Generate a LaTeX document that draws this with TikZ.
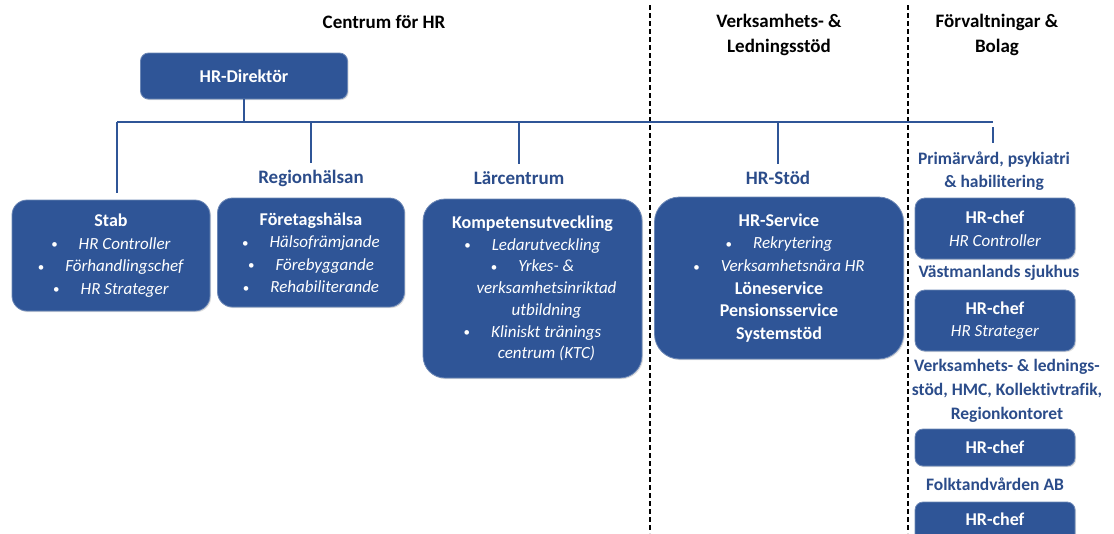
\documentclass[tikz,border=0pt]{standalone}
\usepackage{fontspec}
\setmainfont{Carlito}[Ligatures=NoCommon]
\usepackage{tikz}
\usetikzlibrary{shadows}
\definecolor{hrblue}{HTML}{2F5597}
\definecolor{hrtext}{HTML}{2B4C8A}
\newcommand{\punkt}[1]{{\fontsize{13}{0}\selectfont\raisebox{.5pt}{\textbullet}}\hspace{21pt}\textit{#1}}
\newcommand{\rubrik}[1]{{\bfseries\fontsize{18}{0}\selectfont #1}}

\begin{document}
\begin{tikzpicture}[x=1pt,y=-1pt,
  box/.style={fill=hrblue, draw=hrblue!70!white, line width=.8pt, text=white, align=center, inner sep=0pt,
    font=\fontsize{17}{22.5}\selectfont, drop shadow={opacity=.25, shadow xshift=1.2pt, shadow yshift=-1.2pt}},
  head/.style={align=center, font=\bfseries\fontsize{19}{25}\selectfont},
  unit/.style={align=center, text=hrtext, inner sep=1pt, font=\bfseries\fontsize{19}{23}\selectfont},
  side/.style={unit, font=\bfseries\fontsize{17.5}{23}\selectfont},
  bus/.style={draw=hrblue, line width=2.6pt},
  sep/.style={draw=black, line width=1.2pt, dash pattern=on 5pt off 3pt}]
             \useasboundingbox (0,0) rectangle (1114,533);

             \node[head] (centrum) at (384,22) {Centrum för HR};
             \node[head] (vlstod) at (779,35) {Verksamhets- \&\\Ledningsstöd};
             \node[head] (forvalt) at (997,35) {Förvaltningar \&\\Bolag};

             \draw[sep] (650,5) -- (650,533);
             \draw[sep] (908,5) -- (908,533);

             \node[box, minimum width=207, minimum height=46, rounded corners=8] (direktor) at (244,76) {\rubrik{HR-Direktör}};

             \coordinate (busL) at (117,122);
             \coordinate (busR) at (993,122);
             \coordinate (stabtop) at (117,193);
             \coordinate (tickA) at (993,127);
             \coordinate (tickB) at (993,143);

             \node[unit] (regionhalsan) at (311,178) {Regionhälsan};
             \node[unit] (larcentrum) at (519,178) {Lärcentrum};
             \node[unit] (hrstod) at (778,178) {HR-Stöd};
             \node[side] (primar) at (994,171) {Primärvård, psykiatri\\\& habilitering};

             \draw[bus] (busL) -- (busR);
             \draw[bus] (direktor.south) -- (direktor.south |- busL);
             \draw[bus] (busL) -- (stabtop);
             \draw[bus] (regionhalsan.north |- busL) -- ([yshift=6pt]regionhalsan.north);
             \draw[bus] (larcentrum.north |- busL) -- ([yshift=6pt]larcentrum.north);
             \draw[bus] (hrstod.north |- busL) -- ([yshift=6pt]hrstod.north);
             \draw[bus] (tickA) -- (tickB);

             \node[box, minimum width=198, minimum height=111, rounded corners=15] (stab) at (111,255.5)
               {\rubrik{Stab}\\\punkt{HR Controller}\\\punkt{Förhandlingschef}\\\punkt{HR Strateger}};
             \node[box, minimum width=187, minimum height=109, rounded corners=15] (foretag) at (311,252.5)
               {\rubrik{Företagshälsa}\\\punkt{Hälsofrämjande}\\\punkt{Förebyggande}\\\punkt{Rehabiliterande}};
             \node[box, minimum width=219, minimum height=179, rounded corners=22, font=\fontsize{17}{21.7}\selectfont] (kompetens) at (532.5,288.5)
               {\rubrik{Kompetensutveckling}\\\punkt{Ledarutveckling}\\\punkt{Yrkes- \&}\\
                \hspace*{28pt}\textit{verksamhetsinriktad}\\\hspace*{28pt}\textit{utbildning}\\
                \punkt{Kliniskt tränings}\\\hspace*{28pt}\textit{centrum (KTC)}};
             \node[box, minimum width=249, minimum height=162, rounded corners=25, font=\fontsize{17}{22.7}\selectfont] (hrservice) at (779,278)
               {\rubrik{HR-Service}\\\punkt{Rekrytering}\\\punkt{Verksamhetsnära HR}\\
                \rubrik{Löneservice}\\\rubrik{Pensionsservice}\\\rubrik{Systemstöd}};

             \node[box, minimum width=160, minimum height=61, rounded corners=10] (chefA) at (995,228.5) {\rubrik{HR-chef}\\\textit{HR Controller}};
             \node[side] (vastmanland) at (999,273) {Västmanlands sjukhus};
             \node[box, minimum width=160, minimum height=61, rounded corners=10] (chefB) at (995,320.5) {\rubrik{HR-chef}\\\textit{HR Strateger}};
             \node[side, font=\bfseries\fontsize{17.5}{24}\selectfont] (verksamhet) at (1007,391) {Verksamhets- \& lednings-\\stöd, HMC, Kollektivtrafik,\\Regionkontoret};
             \node[box, minimum width=160, minimum height=37, rounded corners=8] (chefC) at (995,447.5) {\rubrik{HR-chef}};
             \node[side] (folktand) at (995,484) {Folktandvården AB};
             \node[box, minimum width=160, minimum height=56, rounded corners=8] (chefD) at (995,530) {\rubrik{HR-chef}\\\phantom{X}};
             \end{tikzpicture}
\end{document}
